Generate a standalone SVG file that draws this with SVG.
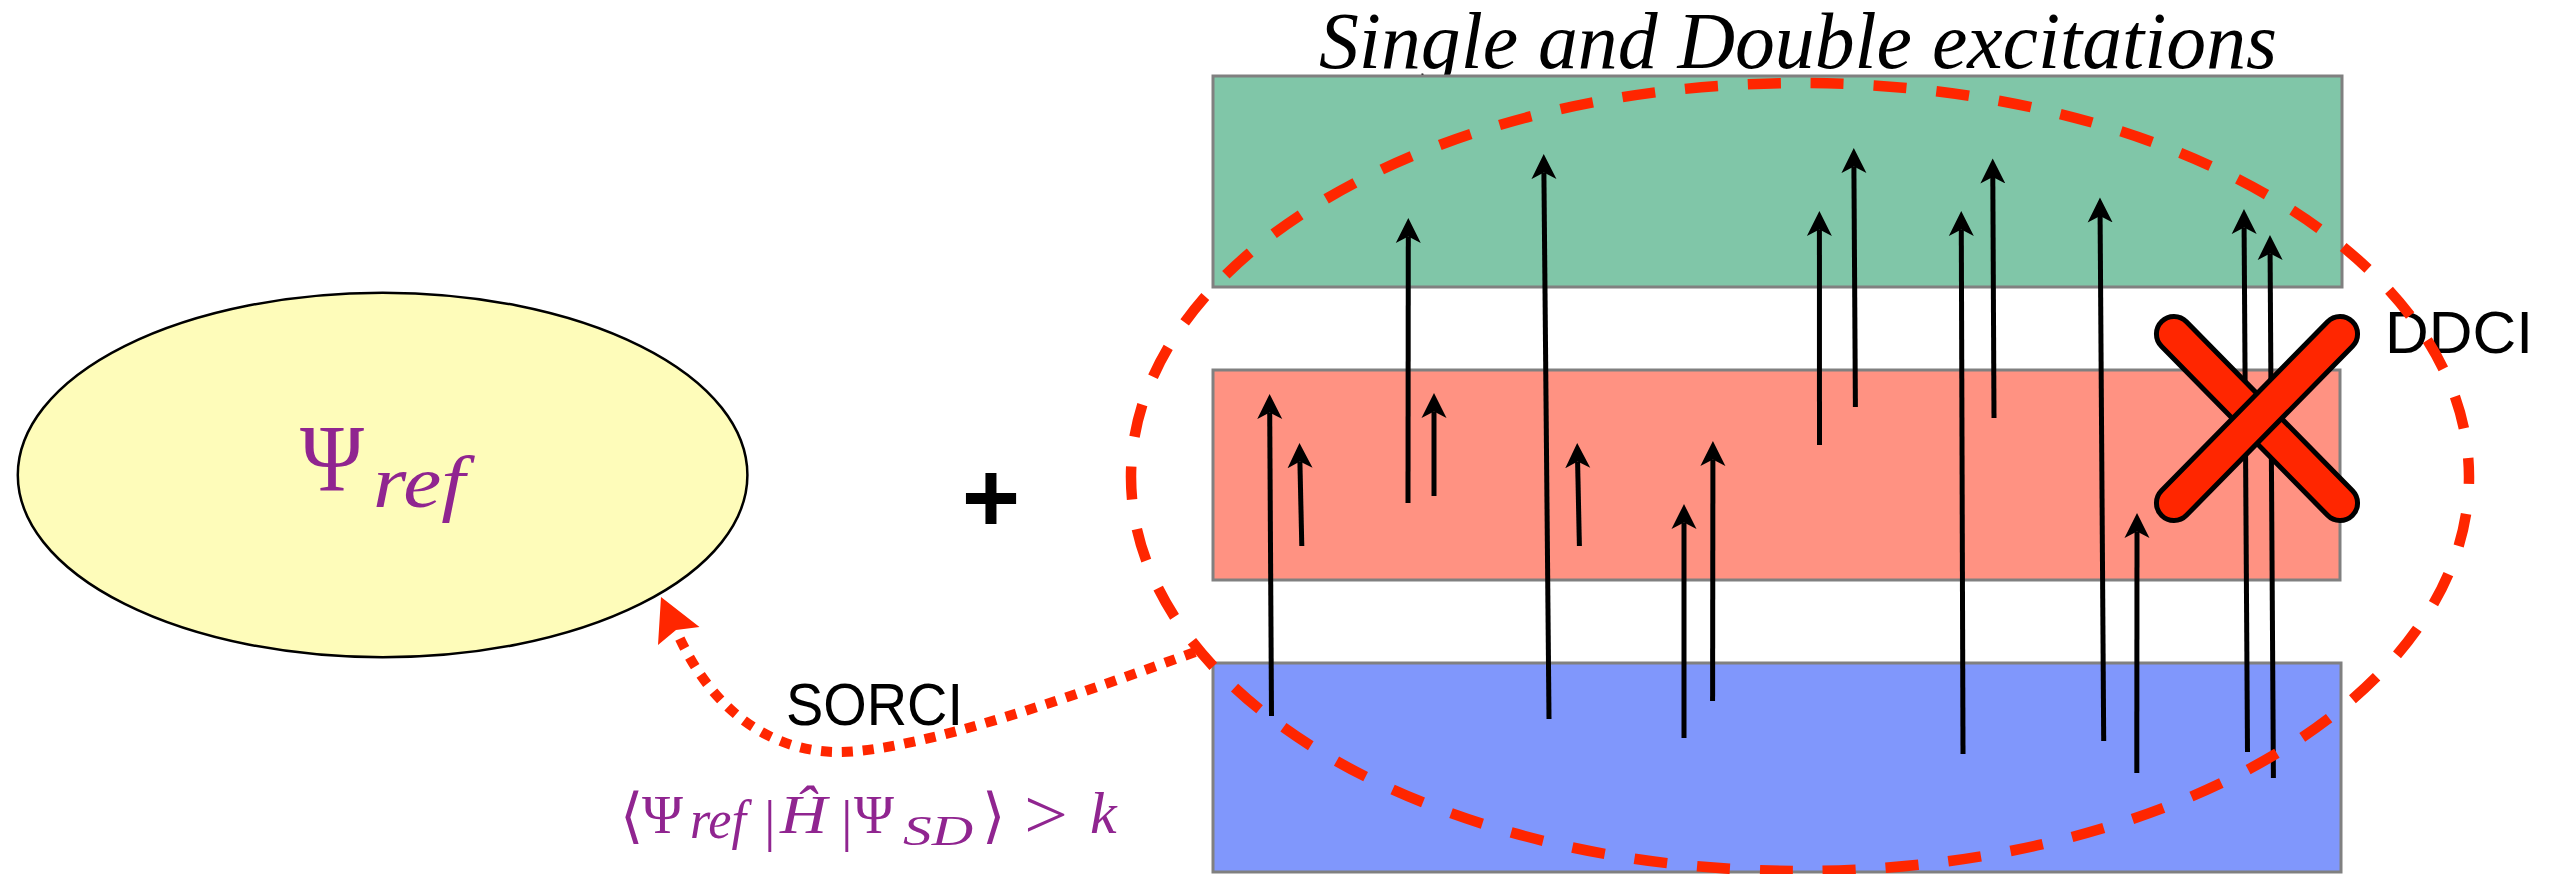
<svg xmlns="http://www.w3.org/2000/svg" width="2555" height="874" viewBox="0 0 2555 874">
<defs>
<style>
.band{stroke:#808080;stroke-width:3}
.arr{stroke:#000;stroke-width:5;fill:none;marker-end:url(#ah)}
.math{fill:#902590;font-family:"Liberation Serif","DejaVu Serif",serif}
.it{font-style:italic}
.br{font-family:"DejaVu Serif","DejaVu Sans","Noto Sans CJK SC",serif}
.lbl{font-family:"Liberation Sans",Arial,sans-serif;fill:#000}
.bar{fill:#FF2600;stroke:#000;stroke-width:5}
</style>
<marker id="ah" markerUnits="userSpaceOnUse" markerWidth="28" markerHeight="28" viewBox="0 -14 28 28" refX="6.5" refY="0" orient="auto"><path d="M25,0 L0,-12.5 L6.5,0 L0,12.5 Z" fill="#000"/></marker>
</defs>
<rect width="2555" height="874" fill="#fff"/>

<g id="reference">
<ellipse cx="382.6" cy="475" rx="364.8" ry="182.3" fill="#FEFCBA" stroke="#000" stroke-width="2.5"/>
<text class="math" x="300" y="491" font-size="95" textLength="64" lengthAdjust="spacingAndGlyphs">Ψ</text>
<text class="math it" x="373" y="507" font-size="74" textLength="92" lengthAdjust="spacingAndGlyphs">ref</text>
</g>

<g id="plus">
<text class="lbl" x="991" y="532" font-size="100" font-weight="bold" text-anchor="middle">+</text>
</g>

<g id="title">
<text x="1319" y="68" font-family="'Liberation Serif','Times New Roman',serif" font-style="italic" font-size="80" textLength="958" lengthAdjust="spacingAndGlyphs">Single and Double excitations</text>
</g>

<g id="virtual">
<rect class="band" x="1213" y="76" width="1129" height="211" fill="#80C6A8"/>
</g>
<g id="active">
<rect class="band" x="1213" y="370" width="1127" height="210" fill="#FF9282"/>
</g>
<g id="inactive">
<rect class="band" x="1213" y="663" width="1128" height="209" fill="#8097FC"/>
</g>

<g id="connectors">
<path class="arr" d="M1408,503 L1408.3,236.5"/>
<path class="arr" d="M1549,719 L1543.9,172.5"/>
<path class="arr" d="M1819.5,445 L1819.4,229.5"/>
<path class="arr" d="M1855.4,407 L1853.9,166.5"/>
<path class="arr" d="M1963,754 L1961.3,229.5"/>
<path class="arr" d="M1994,418 L1992.8,177"/>
<path class="arr" d="M2103.7,741 L2100.1,216"/>
<path class="arr" d="M2247.5,752 L2244.1,227.5"/>
<path class="arr" d="M2273.4,778 L2270.1,253.5"/>
<path class="arr" d="M1271.5,716 L1269.7,412.5"/>
<path class="arr" d="M1301.8,546 L1299.9,461.5"/>
<path class="arr" d="M1434,496 L1434,411.5"/>
<path class="arr" d="M1579.4,546 L1577.6,461.5"/>
<path class="arr" d="M1684,738 L1684,522.5"/>
<path class="arr" d="M1712.6,701 L1712.9,459.5"/>
<path class="arr" d="M2136.8,773 L2137,531.5"/>
<path d="M1195,652 C1090,690 920,752 838,752 C780,752 715,720 676,630" fill="none" stroke="#FF2600" stroke-width="10" stroke-dasharray="11 10"/>
<polygon points="661,597 699.5,627 676,630 658,645" fill="#FF2600"/>
</g>

<g id="ddci-label">
<text class="lbl" x="2385" y="353" font-size="60" textLength="148" lengthAdjust="spacingAndGlyphs">DDCI</text>
</g>

<g id="sd-space">
<ellipse cx="1800" cy="477" rx="669" ry="394" fill="none" stroke="#FF2600" stroke-width="10.5" stroke-dasharray="33 30" stroke-dashoffset="26"/>
</g>

<g id="cross">
<rect class="bar" x="-136" y="-17.5" width="272" height="35" rx="17.5" transform="translate(2257,418.5) rotate(45.5)"/>
<rect class="bar" x="-136" y="-17.5" width="272" height="35" rx="17.5" transform="translate(2257,418.5) rotate(-45.5)"/>
</g>

<g id="sorci-label">
<text class="lbl" x="786" y="725" font-size="60" textLength="177" lengthAdjust="spacingAndGlyphs">SORCI</text>
</g>

<g id="criterion">
<text class="math br" x="620" y="836" font-size="60">⟨</text>
<text class="math" x="642" y="833" font-size="55" textLength="41" lengthAdjust="spacingAndGlyphs">Ψ</text>
<text class="math it" x="690" y="838" font-size="54" textLength="56" lengthAdjust="spacingAndGlyphs">ref</text>
<text class="math" x="764" y="840" font-size="58">|</text>
<text class="math it" x="780" y="833" font-size="54" textLength="47" lengthAdjust="spacingAndGlyphs">Ĥ</text>
<text class="math" x="841" y="840" font-size="58">|</text>
<text class="math" x="854" y="833" font-size="55" textLength="40" lengthAdjust="spacingAndGlyphs">Ψ</text>
<text class="math it" x="903" y="845" font-size="43" textLength="70" lengthAdjust="spacingAndGlyphs">SD</text>
<text class="math br" x="982" y="836" font-size="60">⟩</text>
<text class="math" x="1024" y="838" font-size="70" textLength="44" lengthAdjust="spacingAndGlyphs">&gt;</text>
<text class="math it" x="1090" y="833" font-size="60">k</text>
</g>
</svg>
